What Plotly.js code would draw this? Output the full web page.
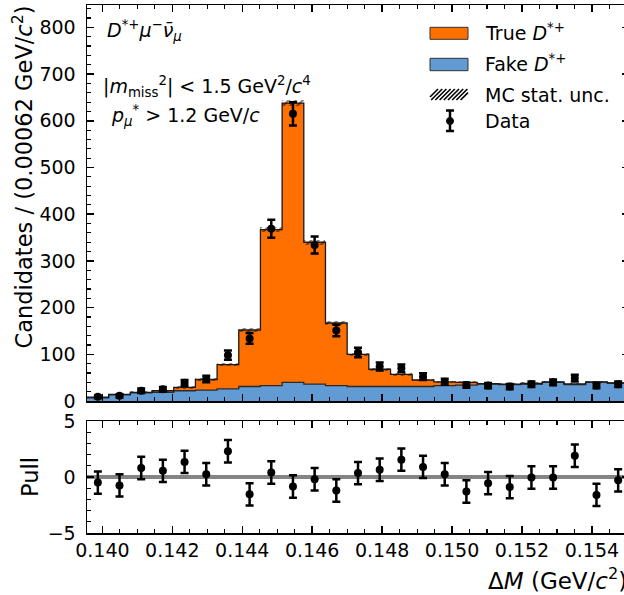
<!DOCTYPE html>
<html>
<head>
<meta charset="utf-8">
<script src="https://cdn.plot.ly/plotly-3.0.1.min.js"></script>
<style>
html,body{margin:0;padding:0;overflow:hidden;background:#fff;}
#plot{width:640px;height:595px;}
</style>
</head>
<body>
<div id="plot"></div>
<script>
// ---- data ----
const binCenters = [0.13987, 0.14049, 0.14111, 0.14173, 0.14235, 0.14297, 0.14359, 0.14421, 0.14483, 0.14545,
                    0.14607, 0.14669, 0.14731, 0.14793, 0.14855, 0.14917, 0.14979, 0.15041, 0.15103, 0.15165,
                    0.15227, 0.15289, 0.15351, 0.15413, 0.15475];
const binWidth = 0.00062;
const fakeDstar = [7, 13, 17.5, 18.5, 22, 23.5, 26, 31, 33, 40, 36, 33, 31, 31, 31, 31, 33, 34, 36, 35, 36, 40, 35, 40, 38];
const trueDstar = [1, 1, 1, 3.5, 7, 22.5, 52, 121, 334, 598, 304, 134, 69, 37, 26, 14, 8, 6, 1, 1, 1.5, 1, 1.5, 1, 1];
const mcStatUnc = [1.5, 2, 2, 2, 2.5, 3, 3.5, 4, 5, 6, 5, 4, 3.5, 3, 3, 2.5, 2.5, 2.5, 2.5, 2.5, 2.5, 2.5, 2.5, 2.5, 2.5];
const dataCounts = [9, 11, 22, 25, 39, 47, 98, 134, 369, 615, 334, 151, 104, 74, 70, 52, 41, 34, 33, 31, 36, 40, 49, 33, 36];
const dataErr = [3, 3.3, 4.7, 5, 6.2, 6.9, 9.9, 11.6, 19.2, 24.8, 18.3, 12.3, 10.2, 8.6, 8.4, 7.2, 6.4, 5.8, 5.7, 5.6, 6, 6.3, 7, 5.7, 6];
const pullVals = [-0.5, -0.75, 0.8, 0.55, 1.35, 0.25, 2.3, -1.55, 0.4, -0.85, -0.2, -1.2, 0.35, 0.65, 1.55, 0.9, 0.25, -1.3, -0.55, -0.9, -0.05, -0.05, 1.9, -1.6, -0.3];
const pullErr = [1, 1, 1, 1, 1, 1, 1, 1, 1, 1, 1, 1, 1, 1, 1, 1, 1, 1, 1, 1, 1, 1, 1, 1, 1];
const xTickVals = [0.140, 0.142, 0.144, 0.146, 0.148, 0.150, 0.152, 0.154];
const xTickText = ['0.140', '0.142', '0.144', '0.146', '0.148', '0.150', '0.152', '0.154'];

// ---- styles ----
const ORANGE = '#ff7000', BLUE = '#629bd3';
const FONT = 'DejaVu Sans, sans-serif';
const FS = 19, LFS = 22.5, XFS = 23;
const W = 640, H = 595, ML = 87, MR = 11, MT = 5, MB = 62;
const PW = W - ML - MR, PH = H - MT - MB;
const px = x => (x - ML) / PW;
const py = y => (MT + PH - y) / PH;

// derived stacking
const totalMC = fakeDstar.map((f, i) => f + trueDstar[i]);
const edges = binCenters.map(c => c - binWidth / 2).concat([binCenters[binCenters.length - 1] + binWidth / 2]);
const stepY = a => a.concat([a[a.length - 1]]);

const traces = [
  {type: 'bar', x: binCenters, y: fakeDstar, base: 0, width: binWidth, xaxis: 'x2', yaxis: 'y',
   marker: {color: BLUE, line: {width: 0}}, showlegend: false, hoverinfo: 'skip'},
  {type: 'bar', x: binCenters, y: trueDstar, base: fakeDstar, width: binWidth, xaxis: 'x2', yaxis: 'y',
   marker: {color: ORANGE, line: {width: 0}}, showlegend: false, hoverinfo: 'skip'},
  {type: 'scatter', mode: 'lines', x: edges, y: stepY(fakeDstar), xaxis: 'x2', yaxis: 'y',
   line: {shape: 'hv', color: '#2b2b2b', width: 1.3}, showlegend: false, hoverinfo: 'skip'},
  {type: 'scatter', mode: 'lines', x: edges, y: stepY(totalMC), xaxis: 'x2', yaxis: 'y',
   line: {shape: 'hv', color: '#1a1a1a', width: 1.3}, showlegend: false, hoverinfo: 'skip'},
  {type: 'bar', x: binCenters, y: mcStatUnc.map(u => 2 * u), base: totalMC.map((t, i) => t - mcStatUnc[i]),
   width: binWidth, xaxis: 'x2', yaxis: 'y',
   marker: {color: 'rgba(0,0,0,0)', line: {width: 0},
            pattern: {shape: '/', fgcolor: '#000', bgcolor: 'rgba(0,0,0,0)', size: 5, solidity: 0.45, fillmode: 'overlay'}},
   showlegend: false, hoverinfo: 'skip'},
  {type: 'scatter', mode: 'markers', x: binCenters, y: dataCounts, xaxis: 'x2', yaxis: 'y',
   marker: {color: '#000', size: 8},
   error_y: {type: 'data', array: dataErr, visible: true, color: '#000', thickness: 2.5, width: 4},
   showlegend: false, hoverinfo: 'skip'},
  {type: 'scatter', mode: 'markers', x: binCenters, y: pullVals, xaxis: 'x', yaxis: 'y2',
   marker: {color: '#000', size: 8},
   error_y: {type: 'data', array: pullErr, visible: true, color: '#000', thickness: 2.5, width: 4},
   showlegend: false, hoverinfo: 'skip'}
];

const axisCommon = {
  showgrid: false, zeroline: false, showline: true, linecolor: '#000', linewidth: 1.5,
  mirror: 'ticks', ticks: 'inside', ticklen: 7, tickwidth: 1.5, tickcolor: '#000',
  tickfont: {family: FONT, size: FS, color: '#000'}
};
const xRange = [edges[0], edges[edges.length - 1]];

// legend drawn as shapes + annotations
const shapes = [
  {type: 'line', xref: 'paper', x0: 0, x1: 1, yref: 'y2', y0: 0, y1: 0,
   line: {color: 'rgba(110,110,110,0.85)', width: 4}, layer: 'below'},
  {type: 'rect', xref: 'paper', yref: 'paper', x0: px(430), x1: px(468), y0: py(39.3), y1: py(27.3),
   fillcolor: ORANGE, line: {color: '#333', width: 1}},
  {type: 'rect', xref: 'paper', yref: 'paper', x0: px(430), x1: px(468), y0: py(70.7), y1: py(58.3),
   fillcolor: BLUE, line: {color: '#333', width: 1}},
  {type: 'line', xref: 'paper', yref: 'paper', x0: px(450), x1: px(450), y0: py(110.5), y1: py(131),
   line: {color: '#000', width: 2.5}},
  {type: 'line', xref: 'paper', yref: 'paper', x0: px(446), x1: px(454), y0: py(110.5), y1: py(110.5),
   line: {color: '#000', width: 2.5}},
  {type: 'line', xref: 'paper', yref: 'paper', x0: px(446), x1: px(454), y0: py(131), y1: py(131),
   line: {color: '#000', width: 2.5}},
  {type: 'circle', xref: 'paper', yref: 'paper', x0: px(446.5), x1: px(453.5), y0: py(117.5), y1: py(124.5),
   fillcolor: '#000', line: {color: '#000', width: 1}}
];
for (let hx = 427; hx <= 462; hx += 4.2) {
  const xa = Math.max(hx, 430), ya = 100 - (xa - hx);
  const xb = Math.min(hx + 11, 468), yb = 100 - (xb - hx);
  if (xb > xa) shapes.push({type: 'line', xref: 'paper', yref: 'paper', x0: px(xa), y0: py(ya), x1: px(xb), y1: py(yb),
    line: {color: '#000', width: 1.6}});
}

const ann = (x, y, text, extra) => Object.assign({xref: 'paper', yref: 'paper', x: px(x), y: py(y), text: text,
  showarrow: false, xanchor: 'left', yanchor: 'middle', font: {family: FONT, size: FS, color: '#000'}}, extra || {});

const annotations = [
  ann(105, 31, '<i>D</i><sup>*+</sup><i>μ</i><sup>−</sup><i>ν̄</i><sub><i>μ</i></sub>'),
  ann(101, 87, '|<i>m</i><sub>miss</sub><sup>2</sup>| < 1.5 GeV<sup>2</sup>/<i>c</i><sup>4</sup>'),
  ann(109, 115, '<i>p</i><sub><i>μ</i></sub><sup>*</sup> > 1.2 GeV/<i>c</i>'),
  ann(483, 32, 'True <i>D</i><sup>*+</sup>'),
  ann(483, 63, 'Fake <i>D</i><sup>*+</sup>'),
  ann(483, 95, 'MC stat. unc.'),
  ann(483, 121, 'Data'),
  // axis titles (right/top aligned as in the reference)
  {xref: 'paper', yref: 'paper', x: 1, y: py(579), xanchor: 'right', yanchor: 'middle', showarrow: false,
   text: 'Δ<i>M</i> (GeV/<i>c</i><sup>2</sup>)', font: {family: FONT, size: XFS, color: '#000'}},
  {xref: 'paper', yref: 'paper', x: px(22), y: py(4), xanchor: 'center', yanchor: 'top', showarrow: false, textangle: -90,
   text: 'Candidates / (0.00062 GeV/<i>c</i><sup>2</sup>)', font: {family: FONT, size: LFS, color: '#000'}},
  {xref: 'paper', yref: 'paper', x: px(30), y: py(477), xanchor: 'center', yanchor: 'middle', showarrow: false, textangle: -90,
   text: 'Pull', font: {family: FONT, size: LFS, color: '#000'}}
];

const layout = {
  width: W, height: H, margin: {l: ML, r: MR, t: MT, b: MB},
  paper_bgcolor: '#fff', plot_bgcolor: '#fff',
  barmode: 'overlay', bargap: 0, showlegend: false,
  font: {family: FONT, size: FS, color: '#000'},
  xaxis: Object.assign({}, axisCommon, {anchor: 'y2', range: xRange, tickvals: xTickVals, ticktext: xTickText,
    minor: {dtick: 0.0005, tick0: 0.14, ticks: 'inside', ticklen: 4, tickwidth: 1.2, tickcolor: '#000'}}),
  xaxis2: Object.assign({}, axisCommon, {anchor: 'y', matches: 'x', range: xRange, tickvals: xTickVals,
    showticklabels: false,
    minor: {dtick: 0.0005, tick0: 0.14, ticks: 'inside', ticklen: 4, tickwidth: 1.2, tickcolor: '#000'}}),
  yaxis: Object.assign({}, axisCommon, {domain: [0.25, 1], anchor: 'x2', range: [0, 848], dtick: 100, tick0: 0,
    ticklabelstandoff: 6,
    minor: {dtick: 20, ticks: 'inside', ticklen: 4, tickwidth: 1.2, tickcolor: '#000'}}),
  yaxis2: Object.assign({}, axisCommon, {domain: [0, 0.2121], anchor: 'x', range: [-5, 5], dtick: 5, tick0: 0,
    ticklabelstandoff: 6,
    minor: {dtick: 1, ticks: 'inside', ticklen: 4, tickwidth: 1.2, tickcolor: '#000'}}),
  shapes: shapes,
  annotations: annotations
};

Plotly.newPlot('plot', traces, layout, {staticPlot: true, displayModeBar: false});
</script>
</body>
</html>
